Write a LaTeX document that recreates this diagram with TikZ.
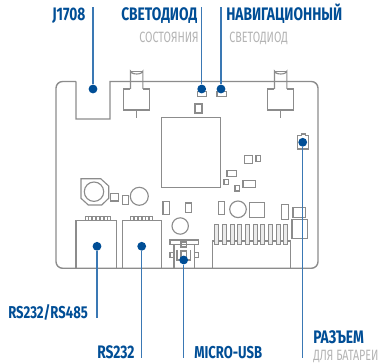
\documentclass[tikz,border=0pt]{standalone}
\usepackage{fontspec}
\setmainfont{Fira Sans}
\newfontfamily\headfont[FakeStretch=0.76]{Fira Sans Bold}
\newfontfamily\subfont[FakeStretch=0.72]{Fira Sans}
\definecolor{partgray}{HTML}{8C8C8C}
\definecolor{dotblue}{HTML}{004E96}
\definecolor{leaderblue}{HTML}{3A78B4}
\definecolor{subgray}{HTML}{B4B4B4}
\tikzset{
  partline/.style={draw=partgray, line width=0.85pt},
  pinline/.style={draw=partgray, line width=0.75pt, fill=black!8},
  dot/.style={circle, fill=dotblue, inner sep=0pt, minimum size=6.6pt},
  leader/.style={draw=leaderblue, line width=0.8pt},
  headlabel/.style={anchor=base west, inner sep=0pt, text=dotblue, font=\headfont\fontsize{13.6pt}{15pt}\selectfont},
  latinlabel/.style={headlabel, font=\headfont\fontsize{12.9pt}{15pt}\selectfont},
  sublabel/.style={anchor=base west, inner sep=0pt, text=subgray, font=\subfont\fontsize{11.2pt}{13pt}\selectfont}
}

\begin{document}
\begin{tikzpicture}[x=0.75pt,y=-0.75pt]
    \useasboundingbox (0,0) rectangle (380,363);
    \fill[white] (0,0) rectangle (380,363);

    % board outline
    \draw[partline, line width=1.05pt] (76,81.5) -- (76,119) -- (110,119) -- (110,81.5) [rounded corners=5pt] -- (318,81.5) -- (318,268.3) -- (56,268.3) -- (56,81.5) -- (76,81.5);

    % antennas
    \foreach \ax in {136.7,280.7} {
        \draw[partline] (\ax-6.2,89) -- (\ax-6.2,71) arc[start angle=180,end angle=0,x radius=6.2,y radius=3] -- (\ax+6.2,89);
        \draw[partline] (\ax-6.2,71.5) -- (\ax+6.2,71.5);
        \draw[partline] (\ax-6.2,89) -- (\ax-13,89) -- (\ax-13,110) -- (\ax+13,110) -- (\ax+13,89) -- (\ax+6.2,89);
        \draw[partline] (\ax,110) -- (\ax,118);
    }

    % chip and small parts
    \draw[partline] (161.5,117.7) rectangle (220.7,187.7);
    \draw[partline] (197.3,91.7) rectangle (206.7,96.3);
    \draw[partline] (217,91.7) rectangle (226.7,96.3);
    \draw[partline] (195,104) rectangle (202,113);
    \draw[partline] (244.7,155.3) rectangle (252.7,163.7);
    \draw[partline] (256,155.3) rectangle (260.7,161.7);
    \draw[partline] (227,170.7) rectangle (236.3,176.7);
    \draw[partline] (224,179.3) rectangle (228.7,184.7);
    \draw[partline] (235,185.7) rectangle (239.7,191);
    \draw[partline] (243,180.3) rectangle (255.3,187.7);
    \draw[partline] (218.7,201.3) rectangle (224.7,214.7);
    \draw[partline] (238,209.3) circle (8.3);
    \draw[partline] (249.3,202.7) rectangle (264.3,217.3);
    \draw[partline] (281.7,204.3) rectangle (288.3,219.3);
    \draw[partline] (293,207.3) rectangle (305.7,217.3);
    \draw[partline] (292,219.3) rectangle (307.7,238.7);
    \draw[partline] (110.3,193.3) rectangle (118.3,201);
    \draw[partline] (122.7,195.7) rectangle (128.3,204.7);
    \draw[partline] (139.3,196.3) circle (9);
    \draw[partline] (163,201.3) rectangle (169.3,214.7);
    \draw[partline] (185.7,203) rectangle (191.3,212.3);
    \draw[partline] (180.2,226) circle (8.2);

    % buzzer
    \draw[partline] (81,178.7) -- (100.7,178.7) -- (108.7,186) -- (108.7,198.3) -- (101.7,205) -- (88.3,205) -- (81,198.3) -- cycle;
    \draw[partline] (94,191.7) circle (9.7);

    % RS sockets
    \draw[partline] (76,268.3) -- (76,220.7) -- (116.7,220.7) -- (116.7,268.3);
    \draw[partline] (122.7,268.3) -- (122.7,220.7) -- (161.7,220.7) -- (161.7,268.3);
    \foreach \i in {0,...,6} {
        \draw[partline, line width=0.6pt] (85+\i*3.8,220.7) -- (85+\i*3.8,216.7) -- (88+\i*3.8,216.7) -- (88+\i*3.8,220.7);
    }
    \foreach \i in {0,...,5} {
        \draw[partline, line width=0.6pt] (130.7+\i*3.8,220.7) -- (130.7+\i*3.8,216.7) -- (133.7+\i*3.8,216.7) -- (133.7+\i*3.8,220.7);
    }

    % micro-usb
    \draw[partline] (174,244.3) -- (174,268.3);
    \draw[partline] (194.3,244.3) -- (194.3,268.3);
    \draw[partline] (170,240) rectangle (198.3,244.3);
    \draw[partline] (170,252.7) rectangle (174,257.5);
    \draw[partline] (194.3,252.7) rectangle (198.3,257.5);
    \draw[partline] (181,242) rectangle (186.7,247);
    \draw[partline] (181,251) rectangle (186.7,260);
    \draw[partline] (177,250) -- (177,260) -- (190.5,260) -- (190.5,250);

    % header
    \draw[partline] (212.7,268.3) -- (212.7,241) -- (290.3,241) -- (290.3,268.3);
    \foreach \i in {0,...,9} {
        \draw[pinline] (215+\i*7.63,224.3) rectangle (219+\i*7.63,244.7);
    }

    % battery socket
    \draw[partline] (297.3,135.7) -- (301.3,135.7) -- (301.3,134) -- (305.3,134) -- (305.3,135.7) -- (308.7,135.7) -- (308.7,149) -- (297.3,149) -- cycle;

    % dots
    \node[dot] (jdot) at (93,89) {};
    \node[dot] (statusdot) at (201.7,89) {};
    \node[dot] (navdot) at (221,89) {};
    \node[dot] (batdot) at (302.7,142.3) {};
    \node[dot] (rsleftdot) at (97,246.3) {};
    \node[dot] (rsrightdot) at (141.7,246.3) {};
    \node[dot] (usbdot) at (183.7,260) {};

    % leaders
    \coordinate (jend) at (93,7);
    \coordinate (statusend) at (201.7,7);
    \coordinate (navend) at (221,7);
    \coordinate (batend) at (302.7,358.5);
    \coordinate (rsleftend) at (97,318.5);
    \coordinate (rsrightend) at (141.7,358.5);
    \coordinate (usbend) at (183.7,358.5);
    \draw[leader] (jdot) -- (jend);
    \draw[leader] (statusdot) -- (statusend);
    \draw[leader] (navdot) -- (navend);
    \draw[leader] (batdot) -- (batend);
    \draw[leader] (rsleftdot) -- (rsleftend);
    \draw[leader] (rsrightdot) -- (rsrightend);
    \draw[leader] (usbdot) -- (usbend);

    % labels
    \node[headlabel] (jlabel) at (52,21) {J1708};
    \node[headlabel] (statuslabel) at (121,21) {СВЕТОДИОД};
    \node[sublabel] (statussub) at (139,43) {СОСТОЯНИЯ};
    \node[headlabel] (navlabel) at (226,21) {НАВИГАЦИОННЫЙ};
    \node[sublabel] (navsub) at (229,43) {СВЕТОДИОД};
    \node[latinlabel] (rsleftlabel) at (8,319) {RS232/RS485};
    \node[headlabel] (rsrightlabel) at (97,359) {RS232};
    \node[latinlabel] (usblabel) at (194,359) {MICRO-USB};
    \node[headlabel] (batlabel) at (313,344) {РАЗЪЕМ};
    \node[sublabel] (batsub) at (313,360.5) {ДЛЯ БАТАРЕИ};
\end{tikzpicture}
\end{document}
